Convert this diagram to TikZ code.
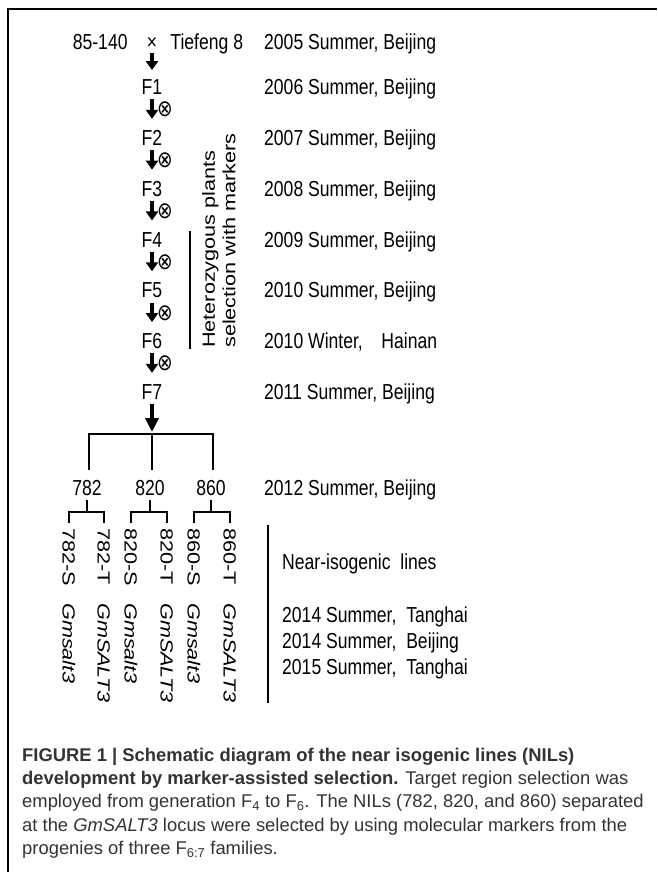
\documentclass[tikz,border=0pt]{standalone}
\usepackage{fontspec}
\setmainfont{Liberation Sans}
\newfontfamily\diagfont{Liberation Sans}[FakeStretch=0.81]
\newfontfamily\vertfont{Liberation Sans}[FakeStretch=1.23]
\newfontfamily\symfont{DejaVu Sans}[FakeStretch=0.81]
\usepackage{tikz}
\usetikzlibrary{arrows.meta}
\usetikzlibrary{positioning}
\usetikzlibrary{calc}

\begin{document}
\begin{tikzpicture}[x=1pt,y=-1pt,node distance=50.8pt,
		txt/.style={inner sep=0pt,text height=15.5pt,text depth=0pt,
			font=\diagfont\fontsize{21.7}{24}\selectfont},
		gen/.style={txt,on grid},
		year/.style={txt,anchor=west},
		vlab/.style={inner sep=0pt,text height=12.6pt,text depth=0pt,rotate=-90,anchor=west,
			font=\vertfont\fontsize{17.6}{20}\selectfont},
		gene/.style={vlab,font=\vertfont\fontsize{17.6}{20}\selectfont\itshape},
		fat/.style={line width=4.5pt,-{Triangle[width=12pt,length=9pt]},
			shorten <=4.5pt,shorten >=11pt},
		bigfat/.style={line width=4.5pt,-{Triangle[width=13pt,length=14pt]},
			shorten <=4.5pt,shorten >=2pt},
		selfing/.style={inner sep=0pt,pos=0.42,xshift=13pt,
			font=\symfont\fontsize{23}{23}\selectfont},
		tree/.style={line width=1.2pt},
		caption/.style={inner sep=0pt,anchor=north west,align=left,text=black!80,
			font=\fontsize{18.4}{23.3}\selectfont}]

	\useasboundingbox (0,0) rectangle (657,872);
	\draw[line width=1.4pt] (8,872) |- (657,9);

	% cross and generations
	\node[txt] (cross) at (152,42) {×};
	\node[txt,left=18.9pt of cross] (p1) {85-140};
	\node[txt,right=12.9pt of cross] (p2) {Tiefeng 8};
	\node[gen,below=45pt of cross] (f1) {F1};
	\node[gen,below=of f1] (f2) {F2};
	\node[gen,below=of f2] (f3) {F3};
	\node[gen,below=of f3] (f4) {F4};
	\node[gen,below=of f4] (f5) {F5};
	\node[gen,below=of f5] (f6) {F6};
	\node[gen,below=of f6] (f7) {F7};

	\path
		(cross) edge[fat,shorten <=3pt,shorten >=9pt] (f1)
		(f1) edge[fat] node[selfing] {⊗} (f2)
		(f2) edge[fat] node[selfing] {⊗} (f3)
		(f3) edge[fat] node[selfing] {⊗} (f4)
		(f4) edge[fat] node[selfing] {⊗} (f5)
		(f5) edge[fat] node[selfing] {⊗} (f6)
		(f6) edge[fat] node[selfing] {⊗} (f7)
	;

	% seasons
	\coordinate (yc) at (264,0);
	\node[year] (y2005) at (yc |- cross) {2005 Summer, Beijing};
	\node[year] (y2006) at (yc |- f1) {2006 Summer, Beijing};
	\node[year] (y2007) at (yc |- f2) {2007 Summer, Beijing};
	\node[year] (y2008) at (yc |- f3) {2008 Summer, Beijing};
	\node[year] (y2009) at (yc |- f4) {2009 Summer, Beijing};
	\node[year] (y2010s) at (yc |- f5) {2010 Summer, Beijing};
	\node[year] (y2010w) at (yc |- f6) {\makebox[173pt][l]{2010 Winter,\hfill Hainan}};
	\node[year] (y2011) at (yc |- f7) {2011 Summer, Beijing};

	% marker selection F4--F6
	\draw[tree] ([xshift=38pt]f4.north) -- ([xshift=38pt]f6.south);
	\node[rotate=90,anchor=north west,align=left,inner sep=0pt,
		font=\vertfont\fontsize{17.6}{20.5}\selectfont] (hetero) at (202,348)
		{Heterozygous plants\\selection with markers};

	% split into three families
	\coordinate (split) at ($(f7)+(0,42.2)$);
	\draw[bigfat] (f7) -- (split);
	\node[txt] (n782) at (87,488) {782};
	\node[txt] (n820) at (150,488) {820};
	\node[txt] (n860) at (211,488) {860};
	\node[year] (y2012) at (yc |- n820) {2012 Summer, Beijing};
	\draw[tree,shorten >=10pt] (split) -| ([xshift=2pt]n782.north);
	\draw[tree,shorten >=10pt] (split) -- (split |- n820.north);
	\draw[tree,shorten >=10pt] (split) -| ([xshift=2pt]n860.north);

	% near-isogenic lines
	\node[vlab] (s782) at (69,528) {782-S};
	\node[vlab] (t782) at (104,528) {782-T};
	\node[vlab] (s820) at (131,528) {820-S};
	\node[vlab] (t820) at (167,528) {820-T};
	\node[vlab] (s860) at (194,528) {860-S};
	\node[vlab] (t860) at (230,528) {860-T};
	\node[gene] (gs782) at (69,603) {Gmsalt3};
	\node[gene] (gt782) at (104,603) {GmSALT3};
	\node[gene] (gs820) at (131,603) {Gmsalt3};
	\node[gene] (gt820) at (167,603) {GmSALT3};
	\node[gene] (gs860) at (194,603) {Gmsalt3};
	\node[gene] (gt860) at (230,603) {GmSALT3};

	\draw[tree] ([yshift=5pt]s782.west) |- ([yshift=-16pt]n782.south) -| ([yshift=5pt]t782.west);
	\draw[tree] ([yshift=-4pt]n782.south) -- ([yshift=-16pt]n782.south);
	\draw[tree] ([yshift=5pt]s820.west) |- ([yshift=-16pt]n820.south) -| ([yshift=5pt]t820.west);
	\draw[tree] ([yshift=-4pt]n820.south) -- ([yshift=-16pt]n820.south);
	\draw[tree] ([yshift=5pt]s860.west) |- ([yshift=-16pt]n860.south) -| ([yshift=5pt]t860.west);
	\draw[tree] ([yshift=-4pt]n860.south) -- ([yshift=-16pt]n860.south);

	\draw[tree] (268,525) -- (268,703);
	\node[year] (nil) at (282,562) {Near-isogenic~~lines};
	\node[year] (y2014t) at (282,615) {2014 Summer,~~Tanghai};
	\node[year] (y2014b) at (282,641) {2014 Summer,~~Beijing};
	\node[year] (y2015t) at (282,667) {2015 Summer,~~Tanghai};

	% caption
	\node[caption] (cap) at (22,747.6)
		{\textbf{FIGURE 1 | Schematic diagram of the near isogenic lines (NILs)}\\
		\textbf{development by marker-assisted selection.} Target region selection was\\
		employed from generation F\textsubscript{4} to F\textsubscript{6}. The NILs (782, 820, and 860) separated\\
		at the \textit{GmSALT3} locus were selected by using molecular markers from the\\
		progenies of three F\textsubscript{6:7} families.};
\end{tikzpicture}
\end{document}
